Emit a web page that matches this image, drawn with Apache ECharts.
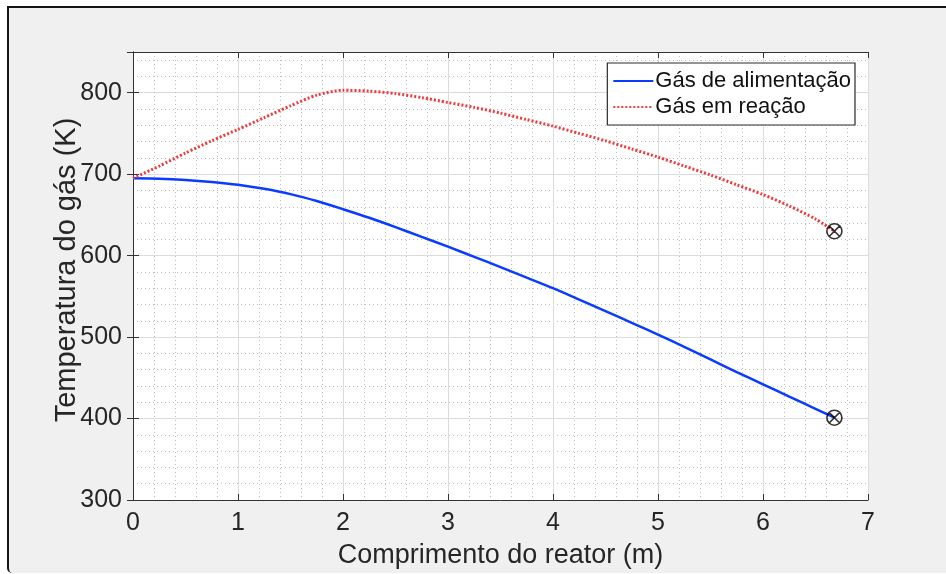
<!DOCTYPE html>
<html>
<head>
<meta charset="utf-8">
<script src="https://cdn.jsdelivr.net/npm/echarts@6/dist/echarts.min.js"></script>
<style>
html,body{margin:0;padding:0;background:#ffffff;width:946px;height:574px;overflow:hidden;}
#frame{position:absolute;left:7px;top:6px;right:0;bottom:1px;background:#f0f0f0;border-top:2px solid #151515;border-left:2px solid #151515;border-bottom-left-radius:5px;}
#chart{position:absolute;left:0;top:0;width:946px;height:574px;}
</style>
</head>
<body>
<div id="frame"></div>
<div id="chart"></div>
<script>
// Data
const xValues = [0, 0.25, 0.5, 0.75, 1, 1.25, 1.5, 1.75, 2, 2.25, 2.5, 2.75, 3, 3.25, 3.5, 3.75,
                 4, 4.25, 4.5, 4.75, 5, 5.25, 5.5, 5.75, 6, 6.25, 6.5, 6.68];
const feedGas = [695, 694.5, 693, 690.5, 687, 682, 675.5, 667, 657, 646.5, 635, 623, 611, 598.5, 586, 573,
                 560, 546, 532, 517.5, 503, 488, 472.5, 457, 442, 427, 412, 401];
const reactingGas = [695, 710, 726, 741, 755, 769.5, 784, 797, 803, 802, 799, 794, 788, 782, 775, 767,
                     759, 750, 741, 731, 721, 710, 699, 687, 675, 661, 645, 630];
const seriesNames = ['Gás de alimentação', 'Gás em reação'];
const xTitle = 'Comprimento do reator (m)';
const yTitle = 'Temperatura do gás (K)';

const pair = (xs, ys) => xs.map((x, i) => [x, ys[i]]);
const last = xValues.length - 1;
const endPoints = [[xValues[last], reactingGas[last]], [xValues[last], feedGas[last]]];

const font = "'Liberation Sans', Arial, Helvetica, sans-serif";
const axisCol = '#333333';
const chart = echarts.init(document.getElementById('chart'), null, {renderer: 'canvas'});
const markerPath = 'path://M10,0A10,10,0,1,1,10,20A10,10,0,1,1,10,0ZM2.93,2.93L17.07,17.07M17.07,2.93L2.93,17.07';

chart.setOption({
  backgroundColor: 'transparent',
  animation: false,
  grid: {left: 133, top: 52, right: 78, bottom: 73, show: true, backgroundColor: '#ffffff', borderColor: 'transparent'},
  legend: {
    data: seriesNames,
    right: 91, top: 63,
    orient: 'vertical',
    itemWidth: 40, itemHeight: 12, itemGap: 4,
    backgroundColor: '#ffffff',
    borderColor: '#2a2a2a', borderWidth: 1.2,
    padding: [7, 4, 7, 5],
    itemStyle: {opacity: 0, color: 'transparent', borderWidth: 0},
    textStyle: {fontFamily: font, fontSize: 22, color: '#111', padding: [0, 0, 0, -3]}
  },
  xAxis: [{
    type: 'value', min: 0, max: 7, interval: 1,
    name: xTitle, nameLocation: 'middle', nameGap: 42, nameMoveOverlap: false,
    nameTextStyle: {fontFamily: font, fontSize: 27, color: '#262626'},
    axisLine: {show: true, lineStyle: {color: axisCol, width: 1}},
    axisTick: {show: true, inside: true, length: 6, lineStyle: {color: axisCol}},
    axisLabel: {fontFamily: font, fontSize: 25, color: '#262626', margin: 11},
    splitLine: {show: true, lineStyle: {color: '#dcdcdc', width: 1}},
    minorTick: {show: false, splitNumber: 5},
    minorSplitLine: {show: true, lineStyle: {color: '#bdbdbd', width: 1, type: [1, 3]}}
  }, {
    type: 'value', min: 0, max: 7, interval: 1, position: 'top',
    axisLine: {show: true, lineStyle: {color: axisCol, width: 1}},
    axisTick: {show: true, inside: true, length: 6, lineStyle: {color: axisCol}},
    axisLabel: {show: false}, splitLine: {show: false}
  }],
  yAxis: [{
    type: 'value', min: 300, max: 850, interval: 100,
    name: yTitle, nameLocation: 'middle', nameGap: 52, nameRotate: 90, nameMoveOverlap: false,
    nameTextStyle: {fontFamily: font, fontSize: 29, color: '#262626', padding: [0, 0, 0, 12]},
    axisLine: {show: true, lineStyle: {color: axisCol, width: 1}},
    axisTick: {show: true, inside: true, length: 6, lineStyle: {color: axisCol}},
    axisLabel: {fontFamily: font, fontSize: 25, color: '#262626', margin: 11,
      formatter: v => (v > 800 ? '' : String(v))},
    splitLine: {show: true, lineStyle: {color: '#dcdcdc', width: 1}},
    minorTick: {show: false, splitNumber: 5},
    minorSplitLine: {show: true, lineStyle: {color: '#bdbdbd', width: 1, type: [1, 3]}}
  }, {
    type: 'value', min: 300, max: 850, interval: 100, position: 'right',
    axisLine: {show: true, lineStyle: {color: axisCol, width: 1}},
    axisTick: {show: true, inside: true, length: 6, lineStyle: {color: axisCol}},
    axisLabel: {show: false}, splitLine: {show: false}
  }],
  series: [{
    name: seriesNames[0], type: 'line', data: pair(xValues, feedGas),
    symbol: 'none', smooth: 0.25,
    lineStyle: {color: '#0a3cff', width: 2.5}, itemStyle: {color: '#0a3cff'}
  }, {
    name: seriesNames[1], type: 'line', data: pair(xValues, reactingGas),
    symbol: 'none', smooth: 0.25,
    lineStyle: {color: '#f03a3a', width: 3, type: [2, 2]}, itemStyle: {color: '#f03a3a'}
  }, {
    name: 'endpoints', type: 'scatter', data: endPoints,
    symbol: markerPath, symbolSize: 15,
    itemStyle: {color: 'rgba(0,0,0,0)', borderColor: '#000000', borderWidth: 1.6},
    z: 5
  }]
});
</script>
</body>
</html>
